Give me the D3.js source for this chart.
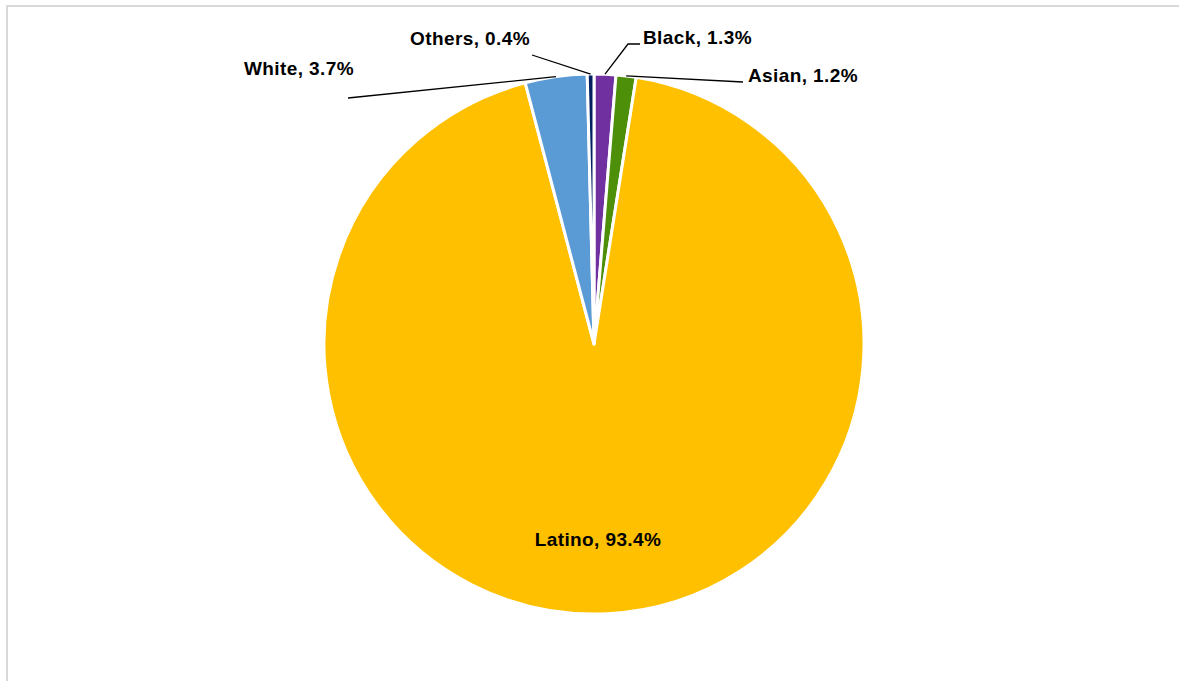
<!DOCTYPE html>
<html>
<head>
<meta charset="utf-8">
<script src="https://cdn.jsdelivr.net/npm/d3@7"></script>
<style>
  html, body { margin: 0; padding: 0; background: #fff; }
  svg { display: block; }
  .lbl { font-family: "Liberation Sans", Arial, sans-serif; font-weight: bold; font-size: 19px; letter-spacing: 0.4px; fill: #000; }
</style>
</head>
<body>
<svg id="chart" width="1179" height="681"></svg>
<script>
// Race / ethnicity shares, listed clockwise from 12 o'clock
const categories = ["Black", "Asian", "Latino", "White", "Others"];
const shares = [1.3, 1.2, 93.4, 3.7, 0.4];
const colors = ["#7030A0", "#4E8F0A", "#FFC000", "#5B9BD5", "#002060"];

const W = 1179, H = 681;
const cx = 594, cy = 344, R = 270;

// Label placement: outside labels with leader lines, Latino inside
const labelLayout = {
  Black:  { x: 643, y: 44, anchor: "start", elbow: [628, 44], end: [640, 44] },
  Asian:  { x: 748, y: 82, anchor: "start", end: [743, 82] },
  Latino: { x: 598, y: 546, anchor: "middle" },
  White:  { x: 244, y: 75, anchor: "start", end: [348, 98] },
  Others: { x: 530, y: 45, anchor: "end", end: [532, 55] }
};

const svg = d3.select("#chart");

// chart-area frame
svg.append("rect")
  .attr("x", 7).attr("y", 6)
  .attr("width", W + 20).attr("height", H + 20)
  .attr("fill", "none")
  .attr("stroke", "#d9d9d9")
  .attr("stroke-width", 2);

const data = categories.map((c, i) => ({ name: c, value: shares[i], color: colors[i] }));

const pie = d3.pie().value(d => d.value).sort(null);
const arcs = pie(data);
const arc = d3.arc().innerRadius(0).outerRadius(R);
const edge = d3.arc().innerRadius(R).outerRadius(R);

const g = svg.append("g").attr("transform", `translate(${cx},${cy})`);

g.selectAll("path.slice")
  .data(arcs)
  .join("path")
  .attr("class", "slice")
  .attr("d", arc)
  .attr("fill", d => d.data.color)
  .attr("stroke", "#fff")
  .attr("stroke-width", 3)
  .attr("stroke-linejoin", "round");

// leader lines from the slice rim to each outside label
const lines = svg.append("g");
arcs.forEach(a => {
  const lay = labelLayout[a.data.name];
  if (!lay.end) return;
  const [ex, ey] = edge.centroid(a);
  const pts = [[cx + ex, cy + ey]];
  if (lay.elbow) pts.push(lay.elbow);
  pts.push(lay.end);
  lines.append("path")
    .attr("d", d3.line()(pts))
    .attr("fill", "none")
    .attr("stroke", "#000")
    .attr("stroke-width", 1.3);
});

// data labels
svg.append("g").selectAll("text")
  .data(arcs)
  .join("text")
  .attr("class", "lbl")
  .attr("x", d => labelLayout[d.data.name].x)
  .attr("y", d => labelLayout[d.data.name].y)
  .attr("text-anchor", d => labelLayout[d.data.name].anchor)
  .text(d => `${d.data.name}, ${d.data.value.toFixed(1)}%`);
</script>
</body>
</html>
